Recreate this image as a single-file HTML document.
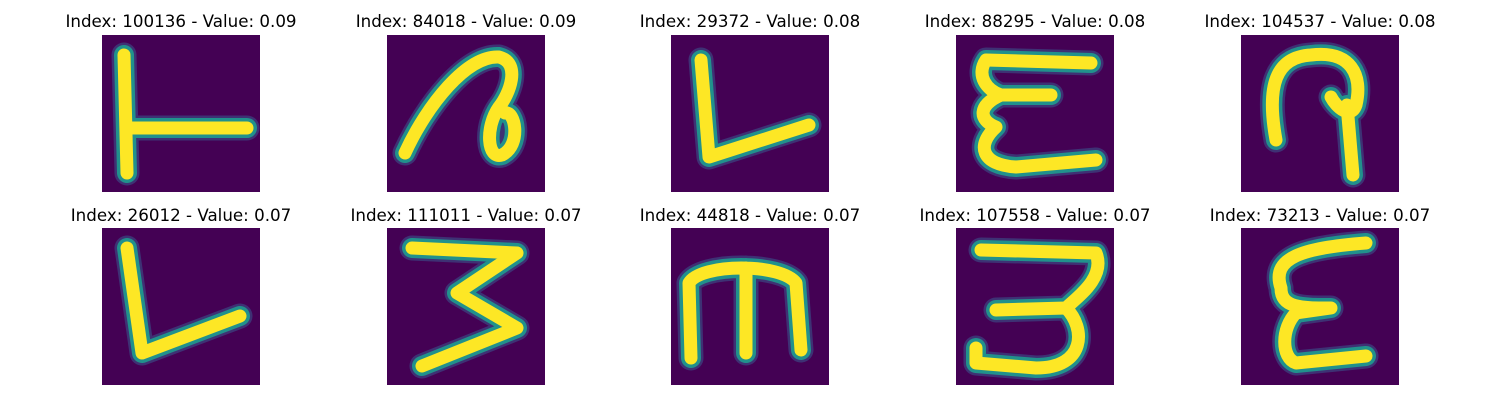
<!DOCTYPE html>
<html><head><meta charset="utf-8">
<style>
body{margin:0;width:1500px;height:400px;background:#fff;overflow:hidden;font-family:"DejaVu Sans","Liberation Sans",sans-serif}
#fig{position:relative;width:1500px;height:400px}
.t{position:absolute;font-size:16.7px;color:#000;white-space:nowrap;transform:translateX(-50%)}
svg.img{position:absolute;width:158px;height:157px}
</style></head><body>
<div id="fig"></div>
<script>
const indices=[100136,84018,29372,88295,104537,26012,111011,44818,107558,73213];
const values=[0.09,0.09,0.08,0.08,0.08,0.07,0.07,0.07,0.07,0.07];
const glyphs=[
"M22,20 L25,138 M25,93 L145,93",
"M18,118 C40,70 80,20 112,22 C135,28 122,60 112,72 C98,92 100,125 115,120 C135,110 128,75 118,78",
"M30,25 L38,122 L138,90",
"M135,28 L30,25 C20,40 30,55 45,60 L95,60 M45,60 C22,70 22,85 40,92 C20,110 25,130 60,132 L140,125",
"M35,105 C25,50 35,22 70,20 C110,15 122,40 115,70 C110,85 95,72 90,62 M106,70 L112,140",
"M25,20 L40,125 L138,88",
"M25,20 L130,25 L70,65 L130,100 L35,138",
"M20,130 L18,55 C30,35 110,35 125,55 L130,122 M75,40 L75,125",
"M25,22 L140,25 C150,50 120,70 110,80 L40,82 M110,80 C130,100 130,140 80,140 L20,135 L20,120",
"M125,15 C60,20 30,30 40,60 C40,80 60,80 90,80 L55,85 C40,100 40,130 55,135 L125,128"
];
const colX=[102,387,671,956,1241], rowY=[35,228], titleY=[11,205];
const fig=document.getElementById('fig');
for(let i=0;i<10;i++){
  const c=i%5,r=Math.floor(i/5);
  const t=document.createElement('div');
  t.className='t';
  
  
  t.style.left=(colX[c]+79)+'px';t.style.top=titleY[r]+'px';
  t.textContent='Index: '+indices[i]+' - Value: '+values[i].toFixed(2);
  fig.appendChild(t);
  const ns='http://www.w3.org/2000/svg';
  const s=document.createElementNS(ns,'svg');
  s.setAttribute('class','img');
  
  
  s.setAttribute('viewBox','0 0 158 157');
  s.style.left=colX[c]+'px';s.style.top=rowY[r]+'px';
  s.innerHTML='<rect width="158" height="157" fill="#440154"/>'+
   '<path d="'+glyphs[i]+'" fill="none" stroke="#3b528b" stroke-width="25" stroke-linecap="round" stroke-linejoin="round" opacity="0.6"/>'+
   '<path d="'+glyphs[i]+'" fill="none" stroke="#21918c" stroke-width="20" stroke-linecap="round" stroke-linejoin="round"/>'+
   '<path d="'+glyphs[i]+'" fill="none" stroke="#fde725" stroke-width="13" stroke-linecap="round" stroke-linejoin="round"/>';
  fig.appendChild(s);
}
</script>
</body></html>
